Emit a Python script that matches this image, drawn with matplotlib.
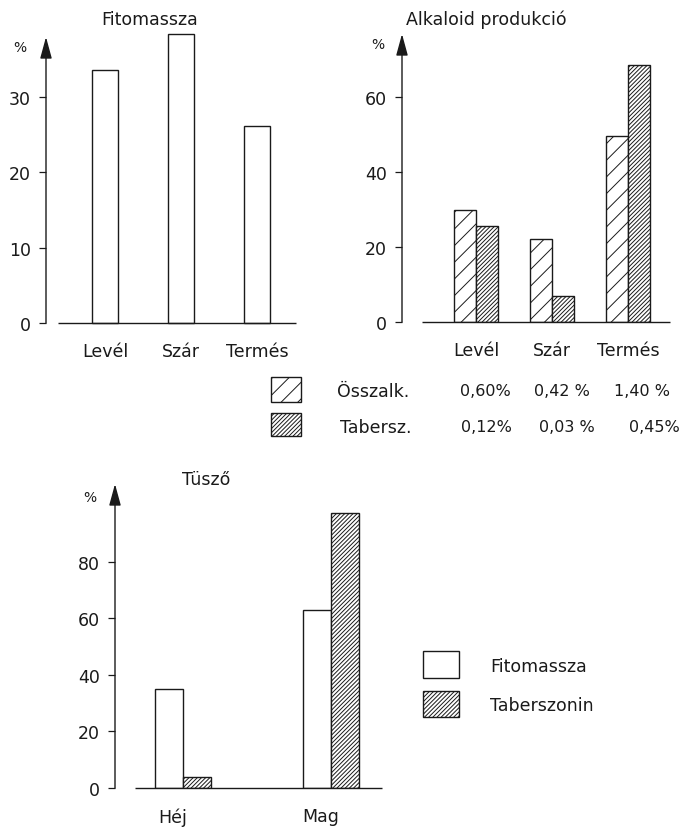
import numpy as np
import matplotlib
matplotlib.use('Agg')
import matplotlib.pyplot as plt
from matplotlib.patches import Rectangle

plt.rcParams['font.family'] = ['DejaVu Sans']
plt.rcParams['hatch.linewidth'] = 0.7

# data
parts1 = ['Levél', 'Szár', 'Termés']
fito = [33.5, 38.3, 26.1]
osszalk = [29.9, 22.1, 49.6]
tabersz = [25.6, 6.9, 68.5]
osszalk_pct = ['0,60%', '0,42 %', '1,40 %']
tabersz_pct = ['0,12%', '0,03 %', '0,45%']
parts3 = ['Héj', 'Mag']
tuszo_fito = [35.0, 63.0]
tuszo_taber = [3.9, 97.0]

W, H = 680, 829
fig = plt.figure(figsize=(W / 100, H / 100), dpi=100)
INK = '#1a1a1a'
FS = 12.5
SPARSE = '//'
DENSE = '////////'


def place(l, t, r, b):
    return fig.add_axes([l / W, 1 - b / H, (r - l) / W, (b - t) / H])


def ftext(x, y, s, **kw):
    kw.setdefault('fontsize', FS)
    kw.setdefault('color', INK)
    kw.setdefault('va', 'center')
    fig.text(x / W, 1 - y / H, s, **kw)


def fbox(l, t, r, b, hatch=None):
    fig.add_artist(Rectangle((l / W, 1 - b / H), (r - l) / W, (b - t) / H,
                             transform=fig.transFigure, facecolor='white',
                             edgecolor=INK, lw=1.0, hatch=hatch))


def style(ax, xlim, ylim, base, yt, pad_x=14):
    ax.set_xlim(*xlim)
    ax.set_ylim(*ylim)
    for s in ax.spines.values():
        s.set_visible(False)
    ax.hlines(0, base[0], base[1], color=INK, lw=1.0, clip_on=False)
    ax.annotate('', xy=(xlim[0], ylim[1]), xytext=(xlim[0], 0),
                arrowprops=dict(arrowstyle='-|>,head_length=1.1,head_width=0.3',
                                mutation_scale=12, color=INK, lw=1.0,
                                shrinkA=0, shrinkB=0), annotation_clip=False)
    ax.set_yticks(yt)
    ax.tick_params(axis='y', length=5, width=0.9, pad=6, labelsize=FS,
                   colors=INK)
    ax.tick_params(axis='x', length=0, pad=pad_x, labelsize=FS, colors=INK)
    ax.patch.set_alpha(0)


# panel 1 - Fitomassza
ax1 = place(46, 38, 300, 324)
x1 = np.arange(len(parts1))
ax1.bar(x1, fito, width=0.33, facecolor='white', edgecolor=INK, lw=1.0,
        clip_on=False)
style(ax1, (-0.776, 2.566), (0, 37.9), (-0.62, 2.51), [0, 10, 20, 30])
ax1.set_xticks(x1)
ax1.set_xticklabels(parts1)
ftext(150, 20, 'Fitomassza', ha='center')
ftext(20, 48, '%', ha='center', fontsize=10)

# panel 2 - Alkaloid produkcio
ax2 = place(402, 35, 672, 323)
x2 = np.arange(len(parts1))
bw = 0.29
ax2.bar(x2 - bw / 2, osszalk, width=bw, facecolor='white', edgecolor=INK,
        lw=1.0, hatch=SPARSE)
ax2.bar(x2 + bw / 2, tabersz, width=bw, facecolor='white', edgecolor=INK,
        lw=1.0, hatch=DENSE)
style(ax2, (-0.974, 2.58), (0, 76.8), (-0.71, 2.55), [0, 20, 40, 60])
ax2.set_xticks(x2)
ax2.set_xticklabels(parts1)
ftext(486, 20, 'Alkaloid produkció', ha='center')
ftext(378, 45, '%', ha='center', fontsize=10)

fbox(271, 378, 301, 403, hatch=SPARSE)
fbox(271, 414, 301, 437, hatch=DENSE)
ftext(337, 392, 'Összalk.', ha='left')
ftext(340, 428, 'Tabersz.', ha='left')
for cx, s in zip([485, 562, 642], osszalk_pct):
    ftext(cx, 392, s, ha='center', fontsize=11.5)
for cx, s in zip([486, 567, 654], tabersz_pct):
    ftext(cx, 428, s, ha='center', fontsize=11.5)

# panel 3 - Tuszo
ax3 = place(115, 485, 385, 789)
x3 = np.arange(len(parts3))
bw3 = 0.19
ax3.bar(x3 - bw3 / 2, tuszo_fito, width=bw3, facecolor='white', edgecolor=INK,
        lw=1.0)
ax3.bar(x3 + bw3 / 2, tuszo_taber, width=bw3, facecolor='white', edgecolor=INK,
        lw=1.0, hatch=DENSE)
style(ax3, (-0.459, 1.365), (0, 107.4), (-0.324, 1.345), [0, 20, 40, 60, 80])
ax3.set_xticks(x3 - 0.07)
ax3.set_xticklabels(parts3)
ftext(206, 480, 'Tüsző', ha='center')
ftext(90, 498, '%', ha='center', fontsize=10)

fbox(423, 652, 459, 679)
fbox(423, 692, 459, 718, hatch=DENSE)
ftext(490, 667, 'Fitomassza', ha='left')
ftext(490, 706, 'Taberszonin', ha='left')

fig.savefig('out.png', dpi=100, facecolor='white')
